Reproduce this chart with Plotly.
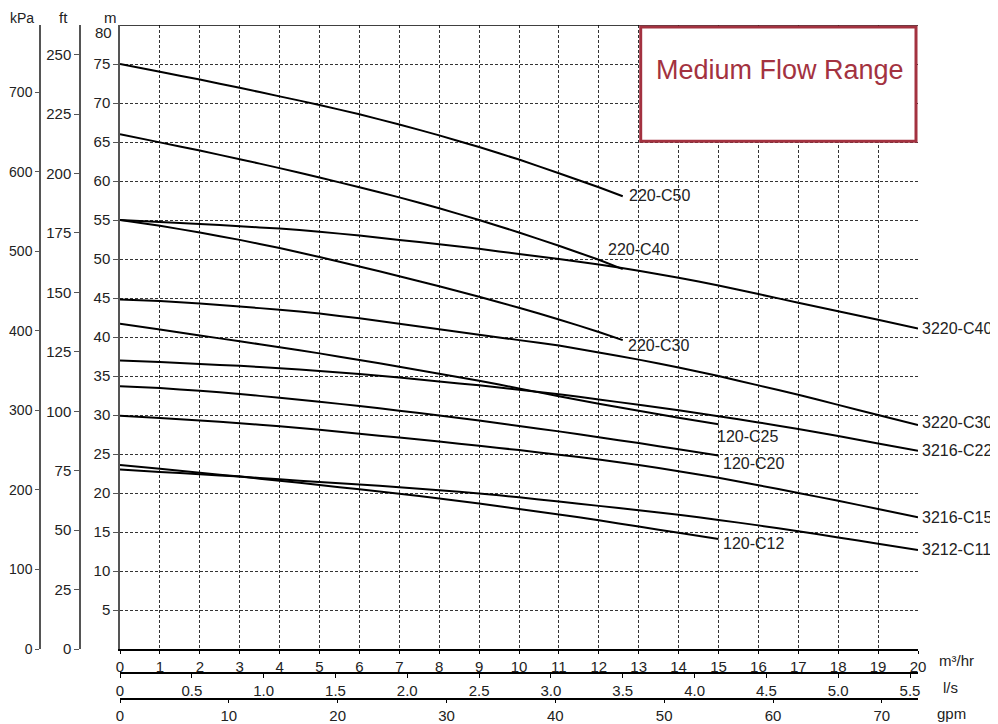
import plotly.graph_objects as go

FLOW = list(range(0, 21))  # m3/hr

curves = {
    "220-C50": [75.0, 74.0, 73.0, 71.95, 70.85, 69.75, 68.55, 67.25, 65.85, 64.35, 62.75, 61.0, 59.2, 58.05],
    "220-C40": [66.0, 64.95, 63.9, 62.8, 61.65, 60.45, 59.2, 57.9, 56.5, 55.0, 53.4, 51.7, 49.9, 48.7],
    "3220-C40": [55.0, 54.75, 54.5, 54.2, 53.9, 53.5, 53.0, 52.45, 51.9, 51.3, 50.65, 50.0, 49.3,
                 48.5, 47.6, 46.6, 45.5, 44.4, 43.3, 42.2, 41.1],
    "220-C30": [55.0, 54.25, 53.4, 52.45, 51.4, 50.25, 49.05, 47.8, 46.5, 45.15, 43.75, 42.25, 40.65, 39.6],
    "3220-C30": [44.8, 44.6, 44.3, 43.9, 43.5, 43.0, 42.4, 41.7, 41.0, 40.3, 39.6, 38.9, 38.0,
                 37.1, 36.1, 35.0, 33.8, 32.6, 31.3, 30.0, 28.7],
    "120-C25": [41.7, 40.95, 40.2, 39.45, 38.7, 37.9, 37.05, 36.2, 35.3, 34.4, 33.4, 32.4, 31.45,
                30.55, 29.65, 28.8],
    "3216-C22": [37.0, 36.8, 36.55, 36.3, 36.0, 35.65, 35.25, 34.8, 34.3, 33.8, 33.25, 32.65, 32.0,
                 31.3, 30.6, 29.85, 29.05, 28.2, 27.3, 26.35, 25.4],
    "120-C20": [33.7, 33.45, 33.1, 32.7, 32.2, 31.7, 31.15, 30.55, 29.95, 29.3, 28.6, 27.9, 27.15,
                26.4, 25.6, 24.8],
    "3216-C15": [29.9, 29.6, 29.3, 28.95, 28.55, 28.1, 27.6, 27.1, 26.6, 26.05, 25.5, 24.9, 24.3,
                 23.6, 22.8, 21.95, 21.0, 20.0, 19.0, 17.95, 16.9],
    "120-C12": [23.6, 23.1, 22.6, 22.1, 21.57, 21.03, 20.47, 19.9, 19.3, 18.65, 17.95, 17.25, 16.5,
                15.7, 14.9, 14.1],
    "3212-C11": [23.0, 22.7, 22.4, 22.1, 21.75, 21.4, 21.1, 20.75, 20.35, 19.95, 19.45, 18.9, 18.35,
                 17.8, 17.2, 16.55, 15.85, 15.1, 14.3, 13.5, 12.7],
}
# curves ending at 12.6 m3/hr
END_X = {"220-C50": 12.6, "220-C40": 12.6, "220-C30": 12.6}

# label offsets (px) from curve end
label_shift = {
    "220-C50": (4, 1), "220-C40": (-17, 20), "3220-C40": (2, 0), "220-C30": (3, -5),
    "120-C25": (-4, -12), "3220-C30": (2, 3), "3216-C22": (2, 0), "120-C20": (2, -8),
    "3216-C15": (2, 0), "3212-C11": (2, 0), "120-C12": (2, -4),
}

M_TICKS = list(range(5, 80, 5))
FT_TICKS = list(range(0, 251, 25))
KPA_TICKS = list(range(0, 701, 100))
LS_TICKS = [0, 0.5, 1.0, 1.5, 2.0, 2.5, 3.0, 3.5, 4.0, 4.5, 5.0, 5.5]
LS_TEXT = ["0", "0.5", "1.0", "1.5", "2.0", "2.5", "3.0", "3.5", "4.0", "4.5", "5.0", "5.5"]
GPM_TICKS = list(range(0, 71, 10))

M_MAX = 80
Q_MAX = 20
FT_PER_M = 1 / 0.3048
KPA_PER_M = 9.80665
LS_PER_M3H = 1 / 3.6
GPM_PER_M3H = 1000 / 4.54609 / 60

FONT = "Liberation Sans, Arial, sans-serif"
TXT = "#222222"
AX = "#555555"
RED = "#A33240"

fig = go.Figure()
annotations = []
for name, ys in curves.items():
    xs = FLOW[:len(ys)]
    if name in END_X:
        xs = FLOW[:len(ys) - 1] + [END_X[name]]
    fig.add_trace(go.Scatter(x=xs, y=ys, mode="lines",
                             line=dict(color="black", width=2, shape="spline", smoothing=0.3),
                             hoverinfo="skip", showlegend=False))
    dx, dy = label_shift[name]
    annotations.append(dict(x=xs[-1], y=ys[-1], xref="x", yref="y", text=name, showarrow=False,
                            xanchor="left", yanchor="middle", xshift=dx, yshift=dy,
                            font=dict(size=16, color=TXT, family=FONT)))

# invisible traces for secondary axes
fig.add_trace(go.Scatter(x=[0, Q_MAX * LS_PER_M3H], y=[0, 0], xaxis="x2", yaxis="y", mode="markers",
                         marker=dict(opacity=0), hoverinfo="skip", showlegend=False))
fig.add_trace(go.Scatter(x=[0, Q_MAX * GPM_PER_M3H], y=[0, 0], xaxis="x3", yaxis="y", mode="markers",
                         marker=dict(opacity=0), hoverinfo="skip", showlegend=False))
fig.add_trace(go.Scatter(x=[0, 0], y=[0, M_MAX * FT_PER_M], xaxis="x", yaxis="y2", mode="markers",
                         marker=dict(opacity=0), hoverinfo="skip", showlegend=False))
fig.add_trace(go.Scatter(x=[0, 0], y=[0, M_MAX * KPA_PER_M], xaxis="x", yaxis="y3", mode="markers",
                         marker=dict(opacity=0), hoverinfo="skip", showlegend=False))

# paper spans page x 10..918, y 25..719 (page has an 8px body margin)
PW, PH = 908, 694
X0 = 110 / PW
Y0 = 70 / PH
tickfont = dict(size=15, color=TXT, family=FONT)
smallfont = dict(size=14, color=TXT, family=FONT)

shapes = [
    dict(type="line", xref="x", yref="y", x0=0, x1=Q_MAX, y0=M_MAX, y1=M_MAX,
         line=dict(color="black", width=1.5)),
    dict(type="rect", xref="x", yref="y", x0=13.05, x1=19.95, y0=65.1, y1=79.75,
         line=dict(color=RED, width=3), fillcolor="white", layer="above"),
]
annotations.append(dict(x=16.55, y=74.2, xref="x", yref="y", text="Medium Flow Range", showarrow=False,
                        font=dict(size=27, color=RED, family=FONT)))
annotations.append(dict(x=0, y=80, xref="x", yref="y", text="80", showarrow=False, xanchor="right",
                        yanchor="middle", xshift=-6, yshift=-7, font=tickfont))
for txt, px, py, f in [("kPa", 22, 18, smallfont), ("ft", 63, 18, tickfont), ("m", 110, 18, tickfont),
                       ("m³/hr", 956, 660, tickfont), ("l/s", 950, 687, tickfont),
                       ("gpm", 951, 713, tickfont)]:
    annotations.append(dict(x=(px - 10) / PW, y=(719 - py) / PH, xref="paper", yref="paper", text=txt,
                            showarrow=False, xanchor="center", yanchor="middle", font=f))

common = dict(automargin=False, fixedrange=True)
fig.update_layout(
    width=990, height=716,
    margin=dict(l=2, r=80, t=17, b=5, autoexpand=False),
    paper_bgcolor="white", plot_bgcolor="white",
    font=dict(family=FONT, size=15, color=TXT),
    showlegend=False,
    xaxis=dict(domain=[X0, 1], range=[0, Q_MAX], dtick=1, tick0=0, showgrid=True, gridcolor="#333333",
               griddash="3px,2px", gridwidth=1, zeroline=False, showline=True, linecolor="black",
               linewidth=1.5, ticks="outside", ticklen=3, tickcolor="black", tickfont=tickfont, **common),
    yaxis=dict(domain=[Y0, 1], range=[0, M_MAX], tickvals=M_TICKS, showgrid=True, gridcolor="#333333",
               griddash="3px,2px", gridwidth=1, zeroline=False, showline=True, linecolor=AX, linewidth=1.5,
               ticks="outside", ticklen=5, tickcolor=AX, tickfont=tickfont, **common),
    xaxis2=dict(overlaying="x", anchor="free", position=46 / PH, side="bottom",
                range=[0, Q_MAX * LS_PER_M3H], tickvals=LS_TICKS, ticktext=LS_TEXT, showgrid=False,
                zeroline=False, showline=True, linecolor="black", linewidth=1.5, ticks="outside", ticklen=4,
                tickcolor="black", tickfont=tickfont, **common),
    xaxis3=dict(overlaying="x", anchor="free", position=20 / PH, side="bottom",
                range=[0, Q_MAX * GPM_PER_M3H], tickvals=GPM_TICKS, showgrid=False,
                zeroline=False, showline=True, linecolor="black", linewidth=1.5, ticks="outside", ticklen=3,
                tickcolor="black", tickfont=tickfont, **common),
    yaxis2=dict(overlaying="y", anchor="free", position=70 / PW, side="left",
                range=[0, M_MAX * FT_PER_M], tickvals=FT_TICKS, showgrid=False, zeroline=False,
                showline=True, linecolor=AX, linewidth=1.5, ticks="outside", ticklen=5, tickcolor=AX,
                tickfont=tickfont, **common),
    yaxis3=dict(overlaying="y", anchor="free", position=30 / PW, side="left",
                range=[0, M_MAX * KPA_PER_M], tickvals=KPA_TICKS, showgrid=False, zeroline=False,
                showline=True, linecolor=AX, linewidth=1.5, ticks="outside", ticklen=4, tickcolor=AX,
                tickfont=smallfont, **common),
    shapes=shapes,
    annotations=annotations,
)

fig.write_html("out.html")
